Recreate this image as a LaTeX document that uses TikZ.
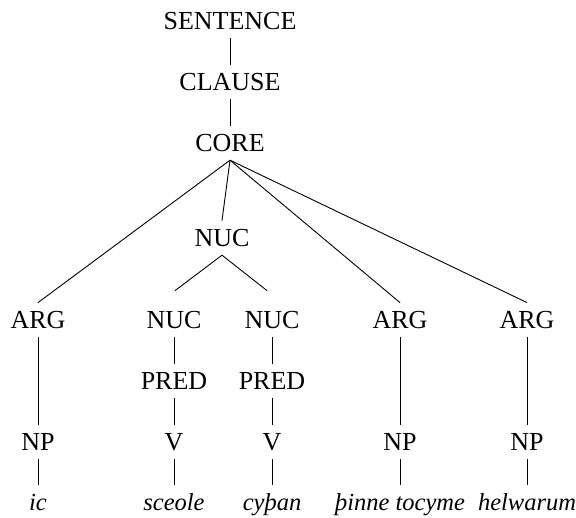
\documentclass[tikz,border=0pt]{standalone}
\usepackage{fontspec}
\setmainfont{Liberation Serif}
\usetikzlibrary{calc}
\begin{document}
\begin{tikzpicture}[x=1pt,y=-1pt,
  lbl/.style={inner xsep=2pt, inner ysep=8.5pt, text height=17.2pt, text depth=0pt,
              anchor=base, font=\fontsize{26}{31}\selectfont},
  word/.style={lbl, inner xsep=0pt, font=\fontsize{24.5}{29}\selectfont\itshape},
  edge/.style={draw=black, line width=0.9pt}]
\useasboundingbox (0,0) rectangle (576,518);
% upper spine
\node[lbl] (sent) at (230,29.5) {SENTENCE};
\node[lbl] (clause) at (230,90.5) {CLAUSE};
\node[lbl] (core) at (230,151.5) {CORE};
\node[lbl] (nuc) at (222,246.5) {NUC};
% daughters of CORE / NUC
\node[lbl] (arga) at (38,328.5) {ARG};
\node[lbl] (nuca) at (174,328.5) {NUC};
\node[lbl] (nucb) at (272,328.5) {NUC};
\node[lbl] (argb) at (400,328.5) {ARG};
\node[lbl] (argc) at (527,328.5) {ARG};
% predicates
\node[lbl] (preda) at (174,389.5) {PRED};
\node[lbl] (predb) at (272,389.5) {PRED};
% phrase level
\node[lbl] (npa) at (38,450.5) {NP};
\node[lbl] (va) at (174,450.5) {V};
\node[lbl] (vb) at (272,450.5) {V};
\node[lbl] (npb) at (400,450.5) {NP};
\node[lbl] (npc) at (527,450.5) {NP};
% words
\node[word] (wa) at (38,511) {ic};
\node[word] (wb) at (174,511) {sceole};
\node[word] (wc) at (272,511) {cyþan};
\node[word] (wd) at (400,511) {þinne tocyme};
\node[word] (we) at (527,511) {helwarum};
% connectors
\draw[edge] (sent.south) -- (clause.north);
\draw[edge] (clause.south) -- (core.north);
\draw[edge] (core.south) -- (arga.north);
\draw[edge] (core.south) -- (nuc.north);
\draw[edge] (core.south) -- (argb.north);
\draw[edge] (core.south) -- (argc.north);
\coordinate (nucatop) at ($(nuca.north)+(1,-12)$);
\coordinate (nucbtop) at ($(nucb.north)+(-5,-12)$);
\draw[edge] (nuc.south) -- (nucatop);
\draw[edge] (nuc.south) -- (nucbtop);
\draw[edge] (arga.south) -- (npa.north);
\draw[edge] (argb.south) -- (npb.north);
\draw[edge] (argc.south) -- (npc.north);
\draw[edge] (nuca.south) -- (preda.north);
\draw[edge] (nucb.south) -- (predb.north);
\draw[edge] (preda.south) -- (va.north);
\draw[edge] (predb.south) -- (vb.north);
\draw[edge] (npa.south) -- (wa.north);
\draw[edge] (va.south) -- (wb.north);
\draw[edge] (vb.south) -- (wc.north);
\draw[edge] (npb.south) -- (wd.north);
\draw[edge] (npc.south) -- (we.north);
\end{tikzpicture}
\end{document}
